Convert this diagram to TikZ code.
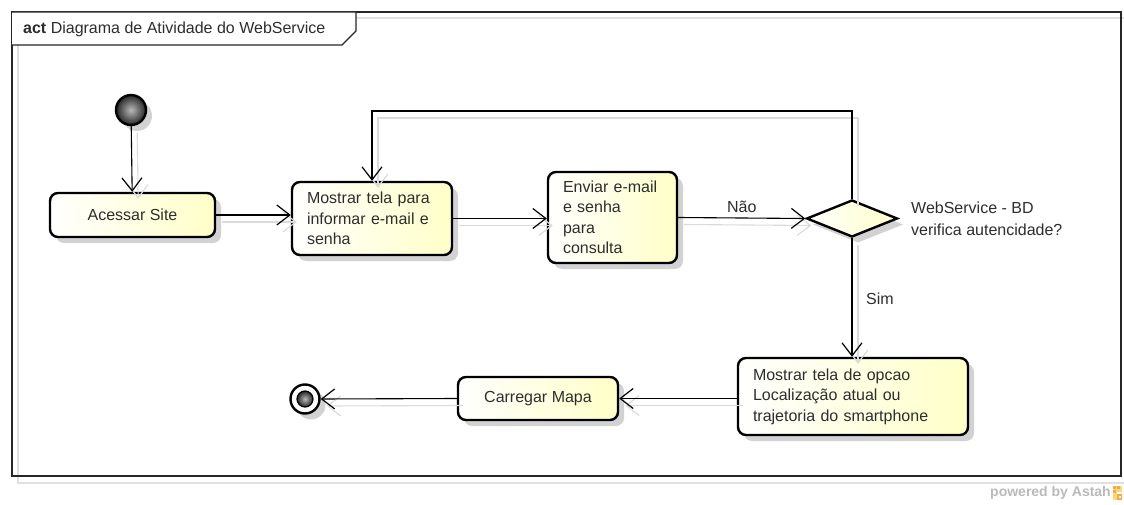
\documentclass[tikz,border=0pt]{standalone}
\usepackage{fontspec}
\setmainfont{Liberation Sans}
\usetikzlibrary{arrows.meta,shapes.geometric,shadows}
\definecolor{actfill}{RGB}{255,255,200}
\definecolor{ink}{RGB}{45,45,45}
\definecolor{astahorange}{RGB}{245,170,70}
\definecolor{astahyellow}{RGB}{250,215,120}

\tikzset{
  every node/.style={font=\fontsize{16}{20.5}\selectfont, text=ink},
  boxshadow/.style={drop shadow={shadow xshift=6pt, shadow yshift=-6pt, fill=black!35, opacity=0.5}},
  action/.style={draw=black, line width=2.4pt, rounded corners=8pt,
    left color=white, right color=actfill, inner sep=0pt, boxshadow},
  actionleft/.style={action, align=left, inner xsep=15pt},
  decision/.style={draw=black, line width=2.4pt, diamond, inner sep=0pt,
    left color=white, right color=actfill, boxshadow},
  startnode/.style={circle, draw=black, line width=2.4pt, inner sep=0pt,
    minimum size=30pt, inner color=gray!55, outer color=black!85, boxshadow},
  endnode/.style={circle, draw=black, line width=2.4pt, inner sep=0pt,
    minimum size=29pt, fill=white, boxshadow},
  endcore/.style={circle, draw=black, line width=1.2pt, inner sep=0pt,
    minimum size=16pt, inner color=gray!55, outer color=black!85},
  flow/.style={draw=black, line width=1.1pt,
    -{Straight Barb[length=13pt,width=20pt,line width=1.2pt]}},
  flowshadow/.style={flow, draw=black!14},
  label/.style={font=\fontsize{16}{22}\selectfont, inner sep=0pt},
}

\begin{document}
\begin{tikzpicture}[x=1pt,y=-1pt]
\useasboundingbox (0,0) rectangle (1124,505);

% frame with its shadow
\draw[black!12, line width=1.5pt] (18,18) rectangle (1128,483);
\draw[black!85, line width=1.5pt] (12,12) rectangle (1121,476);
\draw[black!85, line width=1.2pt, fill=white]
  (12,12) -- (356,12) -- (356,31) -- (342,45) -- (12,45);
\node[anchor=west, inner sep=0pt] (title) at (23,29)
  {\textbf{act} Diagrama de Atividade do WebService};

% nodes
\node[startnode] (start) at (131,110) {};
\node[action, minimum width=165pt, minimum height=44pt] (acessar) at (132.5,215) {Acessar Site};
\node[actionleft, text width=130pt, minimum width=160pt, minimum height=73pt] (mostrar) at (372,218.5)
  {Mostrar tela para\\informar e-mail e\\senha};
\node[actionleft, text width=99pt, minimum width=129pt, minimum height=91pt] (enviar) at (612.5,217.5)
  {Enviar e-mail\\e senha\\para\\consulta};
\node[decision, minimum width=91pt, minimum height=37pt] (verifica) at (852,218.5) {};
\node[actionleft, text width=200pt, minimum width=230pt, minimum height=77pt] (opcao) at (853,396.5)
  {Mostrar tela de opcao\\Localização atual ou\\trajetoria do smartphone};
\node[action, minimum width=160pt, minimum height=43pt] (carregar) at (538,398.5) {Carregar Mapa};
\node[endnode] (final) at (305,399) {};
\node[endcore] (finalcore) at (final.center) {};

% loop corners
\coordinate (loopR) at (852,111);
\coordinate (loopL) at (372,111);

% connector shadows
\begin{scope}[transform canvas={xshift=6pt, yshift=-7pt}]
  \draw[flowshadow] (start) -- (acessar);
  \draw[flowshadow] (acessar.east) -- (acessar.east -| mostrar.west);
  \draw[flowshadow] (mostrar.east) -- (mostrar.east -| enviar.west);
  \draw[flowshadow] (enviar.east) -- (verifica.west);
  \draw[flowshadow] (verifica.north) -- (loopR) -- (loopL) -- (mostrar.north);
  \draw[flowshadow] (verifica.south) -- (verifica.south |- opcao.north);
  \draw[flowshadow] (opcao.west |- carregar.east) -- (carregar.east);
  \draw[flowshadow] (carregar.west) -- (final.east);
\end{scope}

% connectors
\draw[flow] (start) -- (acessar);
\draw[flow] (acessar.east) -- (acessar.east -| mostrar.west);
\draw[flow] (mostrar.east) -- (mostrar.east -| enviar.west);
\draw[flow] (enviar.east) -- (verifica.west)
  node[label, midway, above=5pt] (nao) {Não};
\draw[flow] (verifica.north) -- (loopR) -- (loopL) -- (mostrar.north);
\draw[flow] (verifica.south) -- (verifica.south |- opcao.north);
\draw[flow] (opcao.west |- carregar.east) -- (carregar.east);
\draw[flow] (carregar.west) -- (final.east);

% labels
\node[label, anchor=west] (sim) at (866,299) {Sim};
\node[label, anchor=west, align=left] (pergunta) at (911,219)
  {WebService - BD\\verifica autencidade?};

% footer
\node[anchor=east, inner sep=0pt, text=black!27,
  font=\fontsize{14}{14}\selectfont\bfseries] (powered) at (1111,493) {powered by Astah};
\fill[astahyellow] (1113,486) rectangle (1122,500);
\fill[astahorange] (1113,486) rectangle (1116,489);
\fill[astahorange] (1117,486) rectangle (1120,489);
\fill[astahorange] (1113,490) rectangle (1116,493);
\fill[white] (1117,492) rectangle (1122,494);
\fill[astahorange] (1117,494) rectangle (1122,500);
\fill[white] (1119,496) rectangle (1121,498);
\end{tikzpicture}
\end{document}
